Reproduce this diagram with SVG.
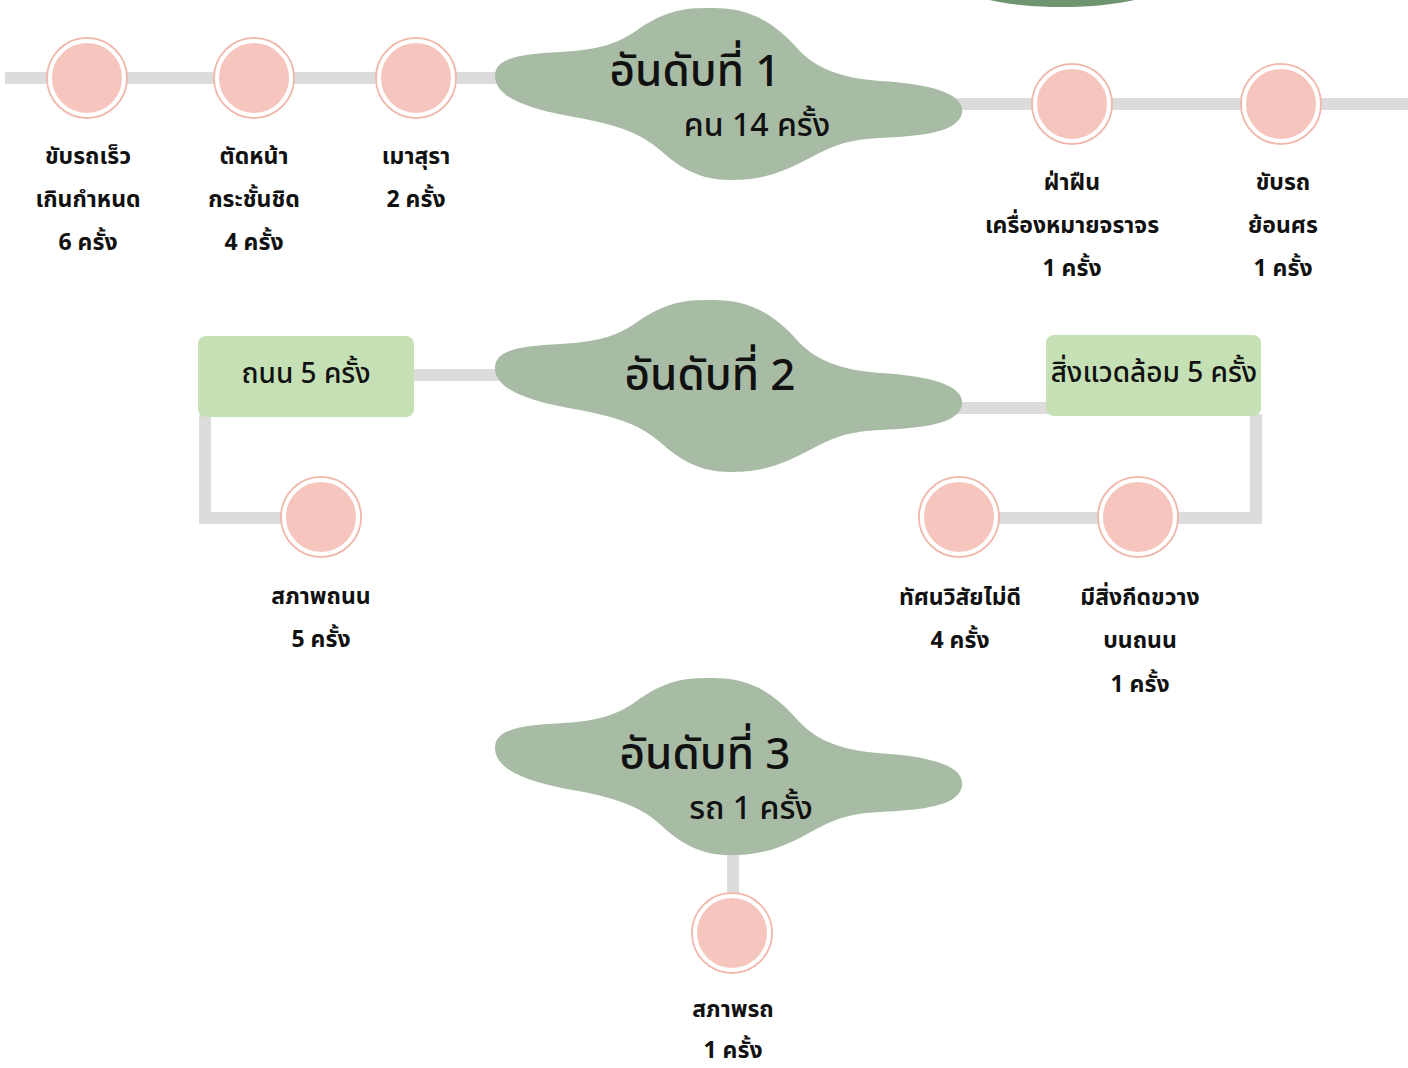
<svg xmlns="http://www.w3.org/2000/svg" width="1408" height="1068" viewBox="0 0 1408 1068">
<style>
text{font-family:"Noto Sans Thai","Noto Sans","DejaVu Sans","Liberation Sans",sans-serif;fill:#111;text-anchor:middle;dominant-baseline:central}
.lbl{font-size:23px;font-weight:bold}
.h{font-size:44px;font-weight:500}
.s{font-size:32px;font-weight:500}
.bx{font-size:28px;font-weight:500}
.ln{stroke:#dcdcdc;stroke-width:12;fill:none}
.blob{fill:#a8bca5}
.box{fill:#c6e0b5}
.dot{fill:#f6c6be;stroke:#fff;stroke-width:4}
.ring{fill:none;stroke:#f1b9ae;stroke-width:2}
</style>
<defs>
<path id="blobShape" d="M495 368 C495 350 520 346 560 344 C600 342 620 335 640 320 C670 300 690 300 713 300 C745 300 770 310 797 340 C815 360 840 370 880 373 C930 376 965 385 962 405 C958 425 920 428 880 430 C840 432 830 440 800 455 C770 470 750 472 730 472 C700 472 680 460 660 442 C640 425 620 418 580 410 C530 402 495 390 495 368 Z"/>
<g id="pin"><circle r="40" class="ring"/><circle r="37" class="dot"/></g>
</defs>
<rect width="1408" height="1068" fill="#fff"/>
<ellipse cx="1062" cy="-20" rx="108" ry="27" fill="#6e9470"/>
<g id="connectors">
<line class="ln" x1="5" y1="78" x2="500" y2="78"/>
<line class="ln" x1="950" y1="104" x2="1408" y2="104"/>
<line class="ln" x1="410" y1="375" x2="505" y2="375"/>
<polyline class="ln" points="205,415 205,518 290,518"/>
<line class="ln" x1="955" y1="408" x2="1050" y2="408"/>
<polyline class="ln" points="1256,414 1256,518 960,518"/>
<line class="ln" x1="733" y1="845" x2="733" y2="900"/>
</g>
<g id="rank1"><use href="#blobShape" class="blob" transform="translate(0,-292)"/><text class="h" x="695" y="72">อันดับที่ 1</text><text class="s" x="757" y="126">คน 14 ครั้ง</text></g>
<g id="rank2"><use href="#blobShape" class="blob"/><text class="h" x="710" y="376">อันดับที่ 2</text></g>
<g id="rank3"><use href="#blobShape" class="blob" transform="translate(0,678) scale(1,1.03) translate(0,-300)"/><text class="h" x="705" y="755">อันดับที่ 3</text><text class="s" x="751" y="809">รถ 1 ครั้ง</text></g>
<g id="n-speed"><use href="#pin" x="87" y="78"/><text class="lbl" x="88" y="157">ขับรถเร็ว</text><text class="lbl" x="88" y="200">เกินกำหนด</text><text class="lbl" x="88" y="243">6 ครั้ง</text></g>
<g id="n-cut"><use href="#pin" x="254" y="78"/><text class="lbl" x="254" y="157">ตัดหน้า</text><text class="lbl" x="254" y="200">กระชั้นชิด</text><text class="lbl" x="254" y="243">4 ครั้ง</text></g>
<g id="n-drunk"><use href="#pin" x="416" y="78"/><text class="lbl" x="416" y="157">เมาสุรา</text><text class="lbl" x="416" y="200">2 ครั้ง</text></g>
<g id="n-sign"><use href="#pin" x="1072" y="104"/><text class="lbl" x="1072" y="183">ฝ่าฝืน</text><text class="lbl" x="1072" y="226">เครื่องหมายจราจร</text><text class="lbl" x="1072" y="269">1 ครั้ง</text></g>
<g id="n-wrong"><use href="#pin" x="1281" y="104"/><text class="lbl" x="1283" y="183">ขับรถ</text><text class="lbl" x="1283" y="226">ย้อนศร</text><text class="lbl" x="1283" y="269">1 ครั้ง</text></g>
<g id="b-road"><rect class="box" x="198" y="336" width="216" height="81" rx="8"/><text class="bx" x="306" y="374">ถนน 5 ครั้ง</text></g>
<g id="b-env"><rect class="box" x="1046" y="335" width="215" height="81" rx="8"/><text class="bx" x="1154" y="373">สิ่งแวดล้อม 5 ครั้ง</text></g>
<g id="n-roadcond"><use href="#pin" x="321" y="517"/><text class="lbl" x="321" y="597">สภาพถนน</text><text class="lbl" x="321" y="640">5 ครั้ง</text></g>
<g id="n-vis"><use href="#pin" x="959" y="517"/><text class="lbl" x="960" y="598">ทัศนวิสัยไม่ดี</text><text class="lbl" x="960" y="641">4 ครั้ง</text></g>
<g id="n-obst"><use href="#pin" x="1138" y="517"/><text class="lbl" x="1140" y="598">มีสิ่งกีดขวาง</text><text class="lbl" x="1140" y="641">บนถนน</text><text class="lbl" x="1140" y="685">1 ครั้ง</text></g>
<g id="n-car"><use href="#pin" x="732" y="933"/><text class="lbl" x="733" y="1010">สภาพรถ</text><text class="lbl" x="733" y="1051">1 ครั้ง</text></g>
</svg>
